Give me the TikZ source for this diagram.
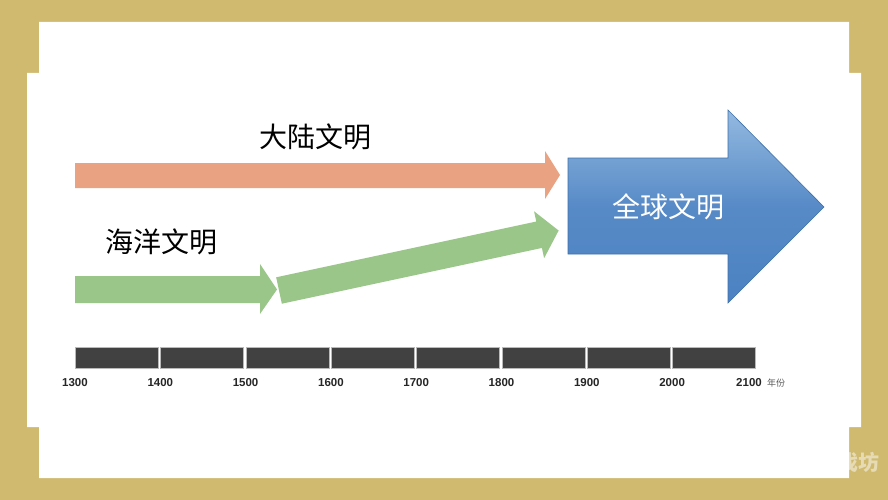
\documentclass[tikz,border=0pt]{standalone}
\usepackage{fontspec}
\setmainfont{Liberation Sans}
\newfontfamily\cjk{Noto Sans CJK SC}
\usetikzlibrary{positioning}

\definecolor{framegold}{HTML}{CFBA70}
\definecolor{markgold}{HTML}{E6DBB4}
\definecolor{landorange}{HTML}{E9A383}
\definecolor{seagreen}{HTML}{9BC68A}
\definecolor{globetop}{HTML}{93B9E0}
\definecolor{globebottom}{HTML}{4C82C2}
\definecolor{globeedge}{HTML}{3F70AA}
\definecolor{bardark}{HTML}{414141}

\tikzset{
  seg/.style={draw=gray!55, line width=0.7pt, fill=bardark, minimum width=83pt,
    minimum height=21pt, inner sep=0pt, anchor=north west},
  yr/.style={font=\bfseries\fontsize{11.5}{11.5}\selectfont, text=black!85, inner sep=0pt},
  civ/.style={font=\cjk\fontsize{28}{28}\selectfont, inner sep=0pt}
}

\begin{document}
\begin{tikzpicture}[x=1pt,y=-1pt]
    \fill[framegold] (0,0) rectangle (888,500);
    \useasboundingbox (0,0) rectangle (888,500);
    \node[font=\cjk\bfseries\fontsize{21}{21}\selectfont, text=markgold, inner sep=0pt] (mark) at (858,462) {戏坊};
    \fill[white] (39,22) -- (849,22) -- (849,73) -- (861,73) -- (861,427) -- (849,427)
        -- (849,478) -- (39,478) -- (39,427) -- (27,427) -- (27,73) -- (39,73) -- cycle;

    \fill[landorange] (75,163) -- (545,163) -- (545,151) -- (560,175) -- (545,199)
        -- (545,188) -- (75,188) -- cycle;
    \fill[seagreen] (75,276) -- (260,276) -- (260,264) -- (277,289.5) -- (260,314)
        -- (260,303) -- (75,303) -- cycle;
    \begin{scope}[shift={(279,290.5)}, rotate=12.1]
        \fill[seagreen] (0,-13.5) -- (266,-13.5) -- (266,-24) -- (286,0) -- (266,24)
            -- (266,13.5) -- (0,13.5) -- cycle;
    \end{scope}
    \draw[globeedge, line width=0.6pt, top color=globetop, bottom color=globebottom, middle color=globebottom!85!globetop]
        (568,158) -- (728,158) -- (728,110) -- (824,207) -- (728,303) -- (728,254)
        -- (568,254) -- cycle;

    \node[civ] (land) at (315,137) {大陆文明};
    \node[civ] (sea) at (161,242) {海洋文明};
    \node[civ, text=white] (globe) at (668,207) {全球文明};

    \foreach \i in {0,...,7}
        \node[seg] (s\i) at (75+\i*85.3,347) {};
    \foreach \yr [count=\i from 0] in {1300,1400,1500,1600,1700,1800,1900,2000}
        \node[yr] (y\yr) at (75+\i*85.3,383) {\yr};
    \node[yr] (y2100) at (749,383) {2100};
    \node[font=\cjk\fontsize{9}{9}\selectfont, text=black!65, inner sep=0pt, right=5pt of y2100] (unit) {年份};
\end{tikzpicture}
\end{document}
